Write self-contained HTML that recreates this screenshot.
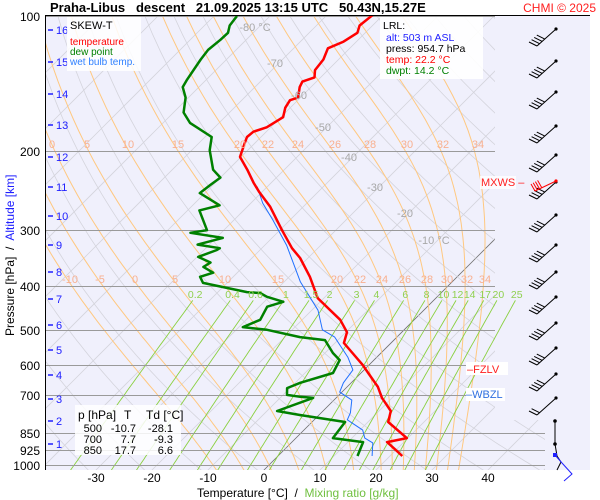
<!DOCTYPE html>
<html><head><meta charset="utf-8">
<style>
html,body{margin:0;padding:0;background:#fff;}
svg{display:block;font-family:"Liberation Sans",sans-serif;}
svg text{white-space:pre;}
</style></head>
<body>
<svg id="chart" width="600" height="500" viewBox="0 0 600 500" xmlns="http://www.w3.org/2000/svg">
<defs>
<clipPath id="plotClip"><polygon points="45,16 495,16 495,420 545,420 545,470 45,470"/></clipPath>
<clipPath id="mixClip"><rect x="45" y="16" width="490" height="454"/></clipPath>
</defs>
<rect x="45" y="16" width="545" height="454" fill="#f0f0fc"/>
<g id="bg" clip-path="url(#plotClip)"></g>
<g id="mix" clip-path="url(#mixClip)"></g>
<g id="isobars"></g>
<g id="series" clip-path="url(#plotClip)"></g>
<g id="labels"></g>
<g id="barbs"></g>
<line x1="45" y1="15.5" x2="590" y2="15.5" stroke="#000" stroke-width="1"/>
<line x1="45.5" y1="16" x2="45.5" y2="470" stroke="#000" stroke-width="1"/>
<text x="50" y="12" font-size="13" font-weight="bold" xml:space="preserve">Praha-Libus   descent   21.09.2025 13:15 UTC   50.43N,15.27E</text>
<text x="596" y="12" font-size="12" fill="#ff2020" text-anchor="end">CHMI © 2025</text>

<g>
<rect x="67" y="17" width="74" height="54" fill="#fff" opacity="0.85"/>
<text x="70" y="29" font-size="11" fill="#000">SKEW-T</text>
<text x="70" y="45" font-size="10" fill="#ff0000">temperature</text>
<text x="70" y="55" font-size="10" fill="#008000">dew point</text>
<text x="70" y="65" font-size="10" fill="#3080ff">wet bulb temp.</text>
</g>
<g>
<rect x="380" y="17" width="103" height="62" fill="#fff" opacity="0.9"/>
<text x="383" y="29" font-size="10.5" fill="#000">LRL:</text>
<text x="386" y="41" font-size="10.5" fill="#2020ff">alt: 503 m ASL</text>
<text x="386" y="52" font-size="10.5" fill="#000">press: 954.7 hPa</text>
<text x="386" y="63" font-size="10.5" fill="#ff0000">temp: 22.2 °C</text>
<text x="386" y="74" font-size="10.5" fill="#008000">dwpt: 14.2 °C</text>
</g>
<g font-size="11">
<rect x="75" y="405" width="106" height="50" fill="#fff" opacity="0.85"/>
<text x="78" y="419" font-size="12">p [hPa]</text><text x="124" y="419" font-size="12">T</text><text x="146" y="419" font-size="12">Td [°C]</text>
<text x="102" y="432" text-anchor="end">500</text><text x="136" y="432" text-anchor="end">-10.7</text><text x="173" y="432" text-anchor="end">-28.1</text>
<text x="102" y="443" text-anchor="end">700</text><text x="136" y="443" text-anchor="end">7.7</text><text x="173" y="443" text-anchor="end">-9.3</text>
<text x="102" y="454" text-anchor="end">850</text><text x="136" y="454" text-anchor="end">17.7</text><text x="173" y="454" text-anchor="end">6.6</text>
</g>
<g font-size="11">
<rect x="480" y="176" width="36" height="13" fill="#fff" opacity="0.8"/>
<text x="481" y="186" fill="#ff2020">MXWS –</text>
<rect x="466" y="362" width="42" height="13" fill="#fff"/>
<text x="467" y="373" fill="#ff2020">–FZLV</text>
<rect x="466" y="388" width="39" height="13" fill="#fff"/>
<text x="466" y="398" fill="#3070e0">–WBZL</text>
</g>
<g>
<text transform="translate(14,336) rotate(-90)" font-size="12" xml:space="preserve"><tspan fill="#000">Pressure [hPa]  /  </tspan><tspan fill="#2020ff">Altitude [km]</tspan></text>
</g>
<g>
<text x="197" y="497" font-size="12" xml:space="preserve"><tspan fill="#000">Temperature [°C]  /  </tspan><tspan fill="#70c040">Mixing ratio [g/kg]</tspan></text>
</g>
</svg>
<script>
// ---- data ----
const tempP = [955,889,871,802,758,709,670,624,599,535,506,475,425,381,346,329,300,266,247,235,220,206,192,186,181,177,168,160,154,152,144,140,137,132,125,118,114,109,105,99];
const tempT = [22.2,17.0,19.8,13.6,12.1,8.2,5.5,1.3,-1.1,-8.4,-9.8,-13.2,-21.1,-26.3,-31.4,-34.6,-39.6,-45.9,-50.4,-53.2,-56.6,-60.2,-61.8,-62.5,-62.3,-60.7,-59.6,-60.9,-61.4,-60.4,-62.0,-62.5,-61.1,-62.3,-62.7,-63.9,-62.3,-61.4,-62.3,-61.8];
const dewP = [955,889,871,802,774,758,709,705,698,674,656,624,584,563,527,519,500,493,475,444,433,422,414,412,393,381,373,362,354,344,332,329,323,312,304,300,271,264,248,238,229,220,199,186,173,164,152,144,139,125,119,113,109,105,100];
const dewT = [14.2,12.7,6.6,5.9,-3.4,-8.2,-4.1,-6.6,-9.3,-10.5,-9.1,-5.0,-6.1,-8.6,-12.3,-17.3,-24.5,-29.3,-27.5,-28.6,-26.6,-30.4,-32.3,-34.8,-44.3,-45.9,-44.3,-47.1,-46.6,-49.8,-47.7,-47.5,-52.1,-48.8,-55.5,-53.0,-57.9,-55.2,-60.9,-60.5,-60.0,-62.7,-66.8,-68.8,-75.2,-78.2,-80.5,-82.9,-83.4,-84.6,-85.0,-84.6,-84.5,-85.5,-85.9];
const wbP = [955,893,871,836,793,765,717,688,656,614,575,519,500,452,391,324,285,261,240];
const wbT = [16.8,14.6,12.3,10.5,5.9,5.2,3.2,-0.4,-1.4,-2.0,-5.2,-11.1,-14.6,-18.9,-27.1,-36.1,-43.0,-47.9,-51.8];
const isobars = [100,200,300,400,500,600,700,850,925,1000];
const tempTicks = [-30,-20,-10,0,10,20,30,40];
const isothermLabels = [-80,-70,-60,-50,-40,-30,-20,-10];
const thetaW = [-10,-5,0,5,10,15,20,22,24,26,28,30,32,34];
const mixRatios = [0.2,0.4,0.6,1,1.5,2,3,4,6,8,10,12,14,17,20,25];
const altKm = [1,2,3,4,5,6,7,8,9,10,11,12,13,14,15,16];
const altY = [444,421,399,375,350,325,299,272,245,216,187,157,125,94,62,30];
const barbLevels = [29,61,92,126,155,182,215,245,272,297,323,348,374,398];

// ---- axes ----
const NS='http://www.w3.org/2000/svg';
function yP(p){return 16+195*Math.log(p/100);}
function xT(T,p){return 264+5.6*T+(470-yP(p));}
function mk(tag,attrs,parent){const e=document.createElementNS(NS,tag);for(const k in attrs)e.setAttribute(k,attrs[k]);parent.appendChild(e);return e;}
const bg=document.getElementById('bg'),mix=document.getElementById('mix'),iso=document.getElementById('isobars'),ser=document.getElementById('series'),lab=document.getElementById('labels'),barbs=document.getElementById('barbs');
function path(pts){return pts.map((q,i)=>(i?'L':'M')+q[0].toFixed(1)+','+q[1].toFixed(1)).join('');}

for(let T=-140;T<=50;T+=10){
  const el=mk('line',{x1:xT(T,1050),y1:yP(1050),x2:xT(T,95),y2:yP(95),stroke:T===0?'#707070':'#d4d4dc','stroke-width':0.8},bg);
  
  
}
for(let th=230;th<=520;th+=10){
  const pts=[];for(let p=1050;p>=95;p-=10){const T=th*Math.pow(p/1000,0.286)-273.15;pts.push([xT(T,p),yP(p)]);}
  const el=mk('path',{d:path(pts),fill:'none',stroke:'#d4d4dc','stroke-width':0.8},bg);
  
  
}
function es(T){return 6.112*Math.exp(17.67*T/(T+243.5));}
function dTdp(T,p){const Tk=T+273.15,e=es(T),rs=0.622*e/(p-e);return (287*Tk+2.5e6*rs)/(p*(1004+2.5e6*2.5e6*rs*0.622/(287*Tk*Tk)));}
for(const tw of thetaW){
  const pts=[];let T=tw,p=1000;
  let Td=tw;for(let q=1000;q<1050;q+=1){Td+=dTdp(Td,q)*1;}
  pts.push([xT(Td,1050),yP(1050)]);
  while(p>95){ if(Math.round(p)%10===0)pts.push([xT(T,p),yP(p)]); T-=dTdp(T,p)*1; p-=1; }
  const el=mk('path',{d:path(pts),fill:'none',stroke:'#ffc880','stroke-width':1},bg);
  
  
}
for(const w of mixRatios){
  const pts=[];for(let p=1050;p>=430;p-=10){const e=w*p/(622+w),l=Math.log(e/6.112),T=243.5*l/(17.67-l);pts.push([xT(T,p),yP(p)]);}
  const el=mk('path',{d:path(pts),fill:'none',stroke:'#8ad040','stroke-width':0.9},mix);
  
  
  const p=417,e=w*p/(622+w),l=Math.log(e/6.112),T=243.5*l/(17.67-l);
  const t=mk('text',{x:xT(T,p)-2,y:298,'font-size':10.5,fill:'#90d050','text-anchor':'middle'},lab);
  t.textContent=String(w);
  
  
}
const upperLab=[[0,52],[5,87],[10,128],[15,178],[20,240],[22,268],[24,298],[26,335],[28,370],[30,407],[32,443],[34,478]];
const lowerLab=[[-10,70],[-5,100],[0,135],[5,175],[10,225],[15,278],[20,337],[22,360],[24,382],[26,405],[28,427],[30,447],[32,467],[34,485]];
for(const [v,x] of upperLab){const t=mk('text',{x:x,y:148,'font-size':11,fill:'#f8b090','text-anchor':'middle'},lab);t.textContent=v;}
for(const [v,x] of lowerLab){const t=mk('text',{x:x,y:283,'font-size':11,fill:'#f8b090','text-anchor':'middle'},lab);t.textContent=v;}
isothermLabels.forEach(T=>{
  const y=[27,63,95,127,157,187,213,240][isothermLabels.indexOf(T)];
  const x=264+5.6*T+(470-y);
  const t=mk('text',{x:x-4,y:y+4,'font-size':11,fill:'#a8a8a8','text-anchor':'middle'},lab);
  t.textContent=(T===-80||T===-10)?T+' °C':String(T);
  
  
});
for(const p of isobars){
  const y=Math.round(yP(p))+0.5;
  const el=mk('line',{x1:45,y1:y,x2:p>=850?545:495,y2:y,stroke:'#9a9a9a','stroke-width':1},iso);
  
  
  const t=mk('text',{x:40,y:y+4.5,'font-size':12,'text-anchor':'end',fill:'#000'},lab);
  t.textContent=p;
  
  
}
for(const T of tempTicks){
  const t=mk('text',{x:264+5.6*T,y:482,'font-size':12,'text-anchor':'middle',fill:'#000'},lab);
  t.textContent=T;
  
  
}
altKm.forEach((k,i)=>{
  const y=altY[i];
  const l=mk('line',{x1:48,y1:y,x2:53,y2:y,stroke:'#2020ff','stroke-width':1.5},lab);
  
  
  const t=mk('text',{x:56,y:y+4,'font-size':11,fill:'#2020ff'},lab);
  t.textContent=k;
  
  
});
function series(P,T,color,w,name){
  const pts=P.map((p,i)=>[xT(T[i],p),yP(p)]);
  const el=mk('path',{d:path(pts),fill:'none',stroke:color,'stroke-width':w,'stroke-linejoin':'round'},ser);
  
  
}
series(wbP,wbT,'#2070ff',1,'wet-bulb-line');
series(dewP,dewT,'#008000',2.5,'dew-point-line');
series(tempP,tempT,'#ff0000',2.5,'temperature-line');
barbLevels.forEach((y,i)=>{
  const g=mk('g',{stroke:'#000','stroke-width':1,fill:'none'},barbs);
  
  
  const tx=556,ty=y,bx=537,by=y+17;
  mk('line',{x1:tx,y1:ty,x2:bx,y2:by},g);
  mk('circle',{cx:tx,cy:ty,r:1.6,fill:'#000',stroke:'none'},g);
  const n=i===13?2:4;
  for(let k=0;k<n;k++){const px=bx+k*2.6,py=by-k*2.3;mk('line',{x1:px,y1:py,x2:px-8,y2:py-4},g);}
  if(i===5){const r=mk('g',{stroke:'#ff0000','stroke-width':1},barbs);mk('line',{x1:556,y1:y-1,x2:535,y2:y+9},r);mk('circle',{cx:556,cy:y-1,r:1.6,fill:'#f00',stroke:'none'},r);for(let k=0;k<4;k++){const px=535+k*2.2,py=y+9-k*1.2;mk('line',{x1:px,y1:py,x2:px-4,y2:py-7},r);}}
});
const low=mk('path',{d:'M555,421 L555,444 L557,456 L561,462 L557,470',fill:'none',stroke:'#000','stroke-width':1},barbs);


mk('circle',{cx:555,cy:421,r:1.8,fill:'#000'},barbs);
mk('circle',{cx:555,cy:444,r:1.8,fill:'#000'},barbs);
const blue=mk('path',{d:'M555,455 L562,463 L572,474 L564,481',fill:'none',stroke:'#2020ff','stroke-width':1},barbs);


mk('rect',{x:553,y:453,width:4,height:4,fill:'#2020ff'},barbs);
</script>
</body></html>
